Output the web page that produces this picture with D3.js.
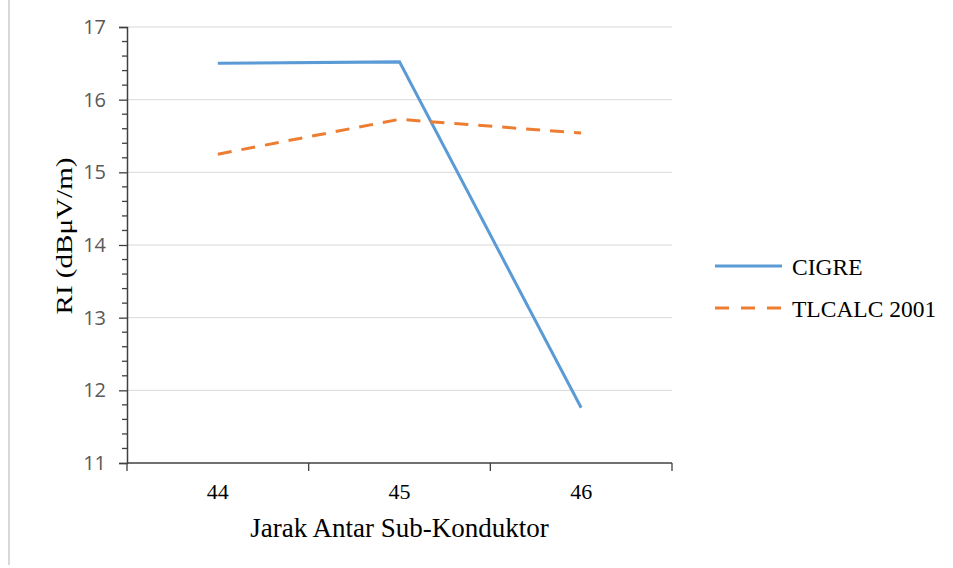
<!DOCTYPE html>
<html><head><meta charset="utf-8">
<script src="https://cdn.jsdelivr.net/npm/d3@7"></script>
<style>body{margin:0;background:#fff}svg{display:block}</style>
</head><body>
<script>
const categories = ["44", "45", "46"];
const cigre = [16.50, 16.52, 11.76];
const tlcalc = [15.25, 15.73, 15.54];
const yTicks = [11, 12, 13, 14, 15, 16, 17];
const seriesNames = ["CIGRE", "TLCALC 2001"];

const W = 953, H = 568;
const svg = d3.select("body").append("svg").attr("width", W).attr("height", H);
svg.append("rect").attr("width", W).attr("height", H).attr("fill", "#fff");
svg.append("line").attr("x1", 9).attr("x2", 9).attr("y1", 0).attr("y2", 565)
  .attr("stroke", "#d9d9d9").attr("stroke-width", 2);

const L = 127, R = 672, T = 27, B = 463;
const x = d3.scaleBand().domain(categories).range([L, R]);
const y = d3.scaleLinear().domain([11, 17]).range([B, T]);
const xc = d => x(d) + x.bandwidth() / 2;
const serif = "'Liberation Serif', 'Times New Roman', serif";

// gridlines
svg.append("g").selectAll("line").data(yTicks.slice(1)).join("line")
  .attr("x1", L).attr("x2", R).attr("y1", d => y(d)).attr("y2", d => y(d))
  .attr("stroke", "#d9d9d9").attr("stroke-width", 1);

// minor ticks
const minor = d3.range(11, 17.001, 0.2).filter(v => Math.abs(v - Math.round(v)) > 0.01);
svg.append("g").selectAll("line").data(minor).join("line")
  .attr("x1", L - 5).attr("x2", L).attr("y1", d => y(d)).attr("y2", d => y(d))
  .attr("stroke", "#404040").attr("stroke-width", 1.3);

// y axis
const yAx = svg.append("g").attr("transform", `translate(${L},0)`)
  .call(d3.axisLeft(y).tickValues(yTicks).tickSize(8).tickPadding(13).tickFormat(d3.format("d")));
yAx.attr("font-size", null).attr("font-family", null);
yAx.select(".domain").attr("stroke", "#404040").attr("stroke-width", 1.5);
yAx.selectAll(".tick line").attr("stroke", "#404040").attr("stroke-width", 1.3);
yAx.selectAll("text").attr("fill", "#595959")
  .style("font-family", "'Open Sans', 'Liberation Sans', sans-serif").style("font-size", "20px");

// x axis
const xAx = svg.append("g").attr("transform", `translate(0,${B})`)
  .call(d3.axisBottom(x).tickSize(0).tickPadding(0));
xAx.attr("font-size", null).attr("font-family", null);
xAx.select(".domain").remove();
xAx.selectAll(".tick line").remove();
xAx.selectAll("text").attr("fill", "#000").style("font-family", serif).style("font-size", "22px")
  .attr("dy", 0).attr("y", 36);
svg.append("line").attr("x1", L).attr("x2", R).attr("y1", B).attr("y2", B).attr("stroke", "#404040").attr("stroke-width", 1.5);
const bounds = categories.map(c => x(c)).concat([R]);
svg.append("g").selectAll("line").data(bounds).join("line")
  .attr("x1", d => d).attr("x2", d => d).attr("y1", B).attr("y2", B + 8)
  .attr("stroke", "#404040").attr("stroke-width", 1.3);

// lines
const line = d3.line().x((d, i) => xc(categories[i])).y(d => y(d));
svg.append("path").datum(cigre).attr("d", line).attr("fill", "none")
  .attr("stroke", "#5b9bd5").attr("stroke-width", 3);
svg.append("path").datum(tlcalc).attr("d", line).attr("fill", "none")
  .attr("stroke", "#ed7d31").attr("stroke-width", 3).attr("stroke-dasharray", "14,10");

// titles
svg.append("text").attr("x", (L + R) / 2).attr("y", 537).attr("text-anchor", "middle")
  .style("font-family", serif).style("font-size", "27px").attr("fill", "#000")
  .text("Jarak Antar Sub-Konduktor");
svg.append("text").attr("transform", `translate(72,236) rotate(-90)`).attr("text-anchor", "middle")
  .style("font-family", serif).style("font-size", "24px").attr("fill", "#000")
  .attr("textLength", 157).attr("lengthAdjust", "spacingAndGlyphs")
  .text("RI (dBμV/m)");

// legend
const leg = svg.append("g");
const ly = [266, 308];
seriesNames.forEach((n, i) => {
  leg.append("line").attr("x1", 715).attr("x2", 782).attr("y1", ly[i]).attr("y2", ly[i])
    .attr("stroke", i === 0 ? "#5b9bd5" : "#ed7d31").attr("stroke-width", 3)
    .attr("stroke-dasharray", i === 0 ? null : "14,12");
  leg.append("text").attr("x", 792).attr("y", ly[i] + 9).style("font-family", serif)
    .style("font-size", "23.5px").attr("fill", "#000").text(n);
});
</script>
</body></html>
